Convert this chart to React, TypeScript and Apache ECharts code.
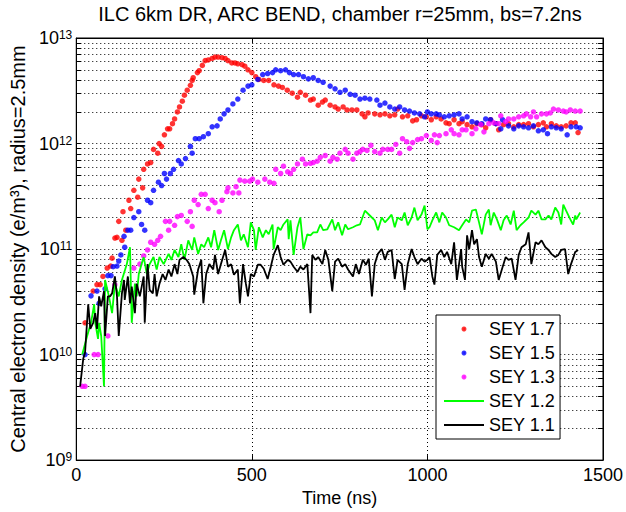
import React, { useEffect, useRef } from "react";
import * as echarts from "echarts";

const FONT = "'Liberation Sans', Arial, Helvetica, sans-serif";
const TITLE = "ILC 6km DR, ARC BEND, chamber r=25mm, bs=7.2ns";
const X_NAME = "Time (ns)";
const Y_NAME = "Central electron density (e/m³), radius=2.5mm";
const X_TICKS = [0, 500, 1000, 1500];
const Y_DECADES = [9, 10, 11, 12, 13];
const MINOR_MANTISSAS = [2, 3, 4, 5, 6, 7, 8, 9];

const NAMES = ["SEY 1.7", "SEY 1.5", "SEY 1.3", "SEY 1.2", "SEY 1.1"];
const COLORS = ["#ff0000", "#0000ff", "#ff00ff", "#00ff00", "#000000"];

// [time (ns), density (e/m^3)]
const sey17: [number, number][] = [[25,2.0e10],[48,4.0e10],[59,4.6e10],[68,4.6e10],[76,5.5e10],[88,6.6e10],[98,6.9e10],[102,8.2e10],[110,1.27e11],[116,1.29e11],[121,1.83e11],[130,1.21e11],[133,2.26e11],[141,1.51e11],[150,2.9e11],[155,2.42e11],[164,3.6e11],[175,3.1e11],[178,4.6e11],[189,3.8e11],[192,5.7e11],[203,6.4e11],[212,6.6e11],[220,8.8e11],[232,8.1e11],[236,1.0e12],[243,9.4e11],[251,1.21e12],[260,1.38e12],[266,1.38e12],[274,1.54e12],[280,1.71e12],[288,1.99e12],[294,2.22e12],[302,2.52e12],[308,2.87e12],[316,3.2e12],[325,3.56e12],[330,3.96e12],[333,4.2e12],[345,4.7e12],[350,4.9e12],[359,5.5e12],[367,6.1e12],[376,6.2e12],[387,6.4e12],[395,6.6e12],[404,6.6e12],[415,6.5e12],[424,6.4e12],[432,6.1e12],[443,5.8e12],[452,5.8e12],[460,5.7e12],[472,5.6e12],[480,5.4e12],[489,5.0e12],[500,4.7e12],[511,4.3e12],[520,4.05e12],[534,3.96e12],[548,3.96e12],[563,3.6e12],[576,3.5e12],[587,3.4e12],[601,3.2e12],[615,3.0e12],[630,2.75e12],[638,3.06e12],[653,2.87e12],[667,2.58e12],[675,2.64e12],[689,2.31e12],[701,2.47e12],[709,2.58e12],[723,2.31e12],[737,2.22e12],[746,2.12e12],[760,2.22e12],[771,2.08e12],[785,2.08e12],[799,2.08e12],[814,1.91e12],[822,1.79e12],[831,1.95e12],[850,1.91e12],[865,1.87e12],[879,1.91e12],[893,1.83e12],[907,1.87e12],[915,2.12e12],[929,1.79e12],[944,1.83e12],[958,1.64e12],[969,1.68e12],[983,1.83e12],[997,1.79e12],[1011,1.68e12],[1025,1.79e12],[1039,1.71e12],[1053,1.57e12],[1062,1.54e12],[1076,1.68e12],[1090,1.54e12],[1099,1.61e12],[1113,1.51e12],[1127,1.44e12],[1141,1.54e12],[1155,1.51e12],[1166,1.41e12],[1180,1.68e12],[1195,1.54e12],[1203,1.35e12],[1217,1.51e12],[1231,1.54e12],[1246,1.44e12],[1260,1.51e12],[1274,1.51e12],[1288,1.54e12],[1302,1.44e12],[1316,1.51e12],[1330,1.57e12],[1339,1.44e12],[1353,1.54e12],[1367,1.47e12],[1381,1.44e12],[1395,1.47e12],[1409,1.57e12],[1421,1.57e12],[1429,1.27e12]];

const sey15: [number, number][] = [[25,1.0e10],[42,3.6e10],[59,4.0e10],[65,3.06e10],[82,4.2e10],[90,5.6e10],[99,5.6e10],[105,6.8e10],[116,6.9e10],[121,7.7e10],[127,8.8e10],[136,1.32e11],[138,1.04e11],[147,1.51e11],[155,1.51e11],[164,1.99e11],[178,2.26e11],[186,1.71e11],[195,1.51e11],[203,2.9e11],[212,2.75e11],[220,3.6e11],[234,4.3e11],[243,4.0e11],[251,5.2e11],[257,4.6e11],[268,5.2e11],[277,5.7e11],[291,6.9e11],[299,6.4e11],[311,7.2e11],[325,9.4e11],[330,8.1e11],[339,1.11e12],[350,1.11e12],[362,1.16e12],[376,1.24e12],[387,1.44e12],[401,1.47e12],[410,1.71e12],[421,1.91e12],[432,2.08e12],[446,2.37e12],[460,2.64e12],[475,3.2e12],[489,3.5e12],[500,3.6e12],[517,4.05e12],[531,4.5e12],[545,4.6e12],[559,4.7e12],[568,5.0e12],[582,4.9e12],[596,5.0e12],[607,4.7e12],[619,4.5e12],[633,4.5e12],[647,4.3e12],[661,4.1e12],[675,4.2e12],[689,3.96e12],[703,3.8e12],[723,3.5e12],[737,3.3e12],[751,3.06e12],[766,3.2e12],[780,2.93e12],[794,2.87e12],[808,2.64e12],[822,2.69e12],[836,2.64e12],[856,2.58e12],[865,2.31e12],[879,2.42e12],[893,2.22e12],[907,2.12e12],[921,2.22e12],[935,2.08e12],[949,2.03e12],[963,1.95e12],[978,1.91e12],[992,1.79e12],[1000,1.99e12],[1011,1.91e12],[1025,1.91e12],[1034,1.87e12],[1048,1.79e12],[1062,1.83e12],[1076,1.87e12],[1090,1.91e12],[1099,1.71e12],[1113,1.79e12],[1127,1.61e12],[1141,1.57e12],[1155,1.54e12],[1166,1.71e12],[1180,1.68e12],[1195,1.54e12],[1209,1.38e12],[1214,1.68e12],[1231,1.47e12],[1246,1.38e12],[1260,1.47e12],[1274,1.44e12],[1288,1.41e12],[1302,1.47e12],[1316,1.32e12],[1330,1.35e12],[1342,1.24e12],[1353,1.44e12],[1367,1.41e12],[1381,1.38e12],[1398,1.21e12],[1409,1.44e12],[1424,1.44e12],[1435,1.41e12]];

const sey13: [number, number][] = [[17,5.0e9],[25,5.0e9],[51,1.0e10],[62,1.0e10],[90,1.5e10],[110,4.6e10],[164,6.6e10],[181,7.2e10],[192,8.6e10],[203,9.8e10],[212,1.16e11],[223,1.11e11],[232,1.21e11],[240,1.32e11],[254,1.83e11],[263,1.51e11],[266,1.83e11],[280,1.68e11],[288,2.03e11],[299,2.08e11],[316,1.83e11],[325,2.26e11],[330,1.64e11],[336,2.9e11],[347,2.64e11],[356,3.3e11],[367,3.3e11],[376,2.42e11],[387,2.9e11],[395,2.75e11],[407,2.26e11],[415,2.9e11],[429,3.5e11],[432,3.8e11],[446,3.4e11],[455,3.9e11],[463,3.4e11],[466,4.5e11],[480,4.4e11],[494,4.4e11],[502,4.6e11],[517,4.3e11],[537,4.6e11],[551,4.3e11],[563,4.2e11],[568,5.7e11],[582,5.2e11],[590,6.1e11],[602,5.4e11],[610,5.2e11],[619,5.7e11],[630,6.4e11],[644,7.1e11],[653,6.4e11],[667,6.5e11],[675,6.6e11],[686,6.8e11],[695,7.4e11],[709,7.7e11],[723,6.8e11],[731,7.4e11],[743,7.1e11],[751,8.1e11],[766,8.8e11],[774,8.1e11],[788,7.1e11],[799,8.1e11],[808,8.4e11],[816,8.8e11],[828,8.6e11],[839,9.6e11],[850,8.4e11],[865,8.1e11],[873,8.8e11],[887,8.8e11],[898,8.8e11],[910,9.8e11],[921,8.1e11],[929,1.11e12],[941,1.04e12],[949,9.0e11],[958,1.02e12],[972,1.09e12],[983,1.11e12],[997,1.19e12],[1011,1.07e12],[1020,1.21e12],[1028,1.02e12],[1034,1.19e12],[1053,1.24e12],[1068,1.35e12],[1076,1.24e12],[1090,1.21e12],[1099,1.35e12],[1110,1.35e12],[1127,1.24e12],[1138,1.38e12],[1152,1.51e12],[1161,1.29e12],[1175,1.54e12],[1189,1.57e12],[1203,1.54e12],[1209,1.83e12],[1223,1.61e12],[1231,1.71e12],[1246,1.71e12],[1260,1.79e12],[1274,1.83e12],[1282,1.91e12],[1294,1.79e12],[1302,1.99e12],[1311,1.79e12],[1325,1.91e12],[1339,1.91e12],[1350,1.95e12],[1359,2.12e12],[1373,2.08e12],[1387,2.03e12],[1395,1.99e12],[1407,2.08e12],[1421,2.03e12],[1435,2.03e12]];

const sey12: [number, number][] = [[17,1.0e10],[31,1.5e10],[42,2.0e10],[51,3.0e10],[54,2.0e10],[62,1.41e10],[65,2.0e10],[71,1.5e10],[79,5.0e9],[82,5.1e10],[93,3.56e10],[102,2.47e10],[110,4.7e10],[121,3.56e10],[130,5.1e10],[144,7.2e10],[153,1.04e11],[158,2.0e10],[167,4.7e10],[172,3.56e10],[178,5.8e10],[186,7.2e10],[192,8.4e10],[201,5.8e10],[209,7.2e10],[220,8.4e10],[229,6.4e10],[237,8.4e10],[249,7.2e10],[263,9.0e10],[271,7.9e10],[280,9.8e10],[291,8.4e10],[299,1.11e11],[308,7.9e10],[319,1.21e11],[330,9.8e10],[336,1.29e11],[347,9.0e10],[356,1.11e11],[364,1.04e11],[376,1.29e11],[384,1.04e11],[393,1.51e11],[404,9.8e10],[412,1.21e11],[421,1.51e11],[432,1.0e11],[441,1.29e11],[449,1.51e11],[460,1.71e11],[469,1.21e11],[477,1.38e11],[489,1.04e11],[497,1.79e11],[506,1.51e11],[511,9.8e10],[520,1.61e11],[531,1.29e11],[540,1.51e11],[548,1.38e11],[559,1.71e11],[562,1.0e11],[574,1.61e11],[582,1.51e11],[590,1.71e11],[602,1.91e11],[605,1.24e11],[610,1.87e11],[619,8.8e10],[630,1.61e11],[638,1.99e11],[647,1.0e11],[658,1.38e11],[667,1.35e11],[675,1.44e11],[686,1.44e11],[695,1.71e11],[703,1.51e11],[715,1.54e11],[729,1.91e11],[737,1.51e11],[746,1.79e11],[757,1.35e11],[766,1.71e11],[774,1.54e11],[788,1.61e11],[799,1.68e11],[808,1.71e11],[822,2.31e11],[836,2.08e11],[850,1.87e11],[859,1.51e11],[870,1.99e11],[879,1.79e11],[887,1.91e11],[898,2.12e11],[907,1.61e11],[915,1.99e11],[927,1.87e11],[935,2.22e11],[944,1.68e11],[955,1.99e11],[963,2.47e11],[972,1.87e11],[983,2.12e11],[992,2.58e11],[1000,1.54e11],[1006,1.61e11],[1014,1.87e11],[1025,2.22e11],[1034,1.79e11],[1042,2.22e11],[1053,1.99e11],[1062,1.68e11],[1076,1.61e11],[1090,1.51e11],[1099,1.68e11],[1110,1.91e11],[1119,1.79e11],[1127,2.31e11],[1138,2.37e11],[1147,1.79e11],[1155,1.38e11],[1166,2.12e11],[1175,2.37e11],[1180,1.68e11],[1189,2.22e11],[1198,1.91e11],[1209,1.51e11],[1217,1.87e11],[1226,2.08e11],[1237,1.71e11],[1246,2.31e11],[1254,1.51e11],[1265,1.68e11],[1274,1.79e11],[1288,1.99e11],[1296,2.31e11],[1308,2.12e11],[1316,2.31e11],[1325,1.91e11],[1336,1.91e11],[1345,2.08e11],[1353,1.91e11],[1364,2.47e11],[1373,2.22e11],[1381,1.71e11],[1387,2.64e11],[1395,2.31e11],[1407,1.91e11],[1415,1.71e11],[1421,2.08e11],[1424,1.91e11],[1435,2.22e11]];

const sey11: [number, number][] = [[11,5.0e9],[20,9.2e9],[25,1.04e10],[34,3.0e10],[40,1.75e10],[48,2.0e10],[54,2.47e10],[59,1.75e10],[65,3.56e10],[71,2.87e10],[79,4.0e10],[82,1.5e10],[90,3.56e10],[96,3.56e10],[102,3.8e10],[110,5.5e10],[116,3.56e10],[121,1.5e10],[130,3.8e10],[136,5.1e10],[138,3.3e10],[147,5.5e10],[153,3.06e10],[158,4.4e10],[167,2.47e10],[172,4.7e10],[181,3.56e10],[192,5.5e10],[195,2.0e10],[203,7.2e10],[209,4.1e10],[218,3.8e10],[223,5.8e10],[229,3.56e10],[237,4.7e10],[246,5.8e10],[254,5.1e10],[263,6.4e10],[271,5.5e10],[280,7.2e10],[288,5.8e10],[294,7.9e10],[305,8.4e10],[314,7.9e10],[322,7.2e10],[333,5.5e10],[336,3.7e10],[347,6.4e10],[356,7.9e10],[362,3.06e10],[370,5.8e10],[379,7.2e10],[390,6.4e10],[395,8.8e10],[404,5.8e10],[412,7.2e10],[424,9.8e10],[432,6.8e10],[441,7.2e10],[449,5.7e10],[460,6.4e10],[466,3.06e10],[475,7.2e10],[483,4.7e10],[489,3.56e10],[497,5.8e10],[506,5.5e10],[517,7.1e10],[525,7.1e10],[534,6.5e10],[545,5.2e10],[554,6.8e10],[562,8.8e10],[574,1.09e11],[582,8.4e10],[590,7.1e10],[602,7.9e10],[610,7.6e10],[619,6.8e10],[630,6.1e10],[638,6.8e10],[647,6.4e10],[658,7.2e10],[667,2.47e10],[672,8.8e10],[681,7.9e10],[689,8.4e10],[701,7.2e10],[709,9.8e10],[718,7.9e10],[729,4.0e10],[737,7.6e10],[746,8.1e10],[757,6.8e10],[766,7.2e10],[774,6.4e10],[788,5.5e10],[796,7.2e10],[805,5.8e10],[816,7.9e10],[825,7.1e10],[833,8.1e10],[842,3.56e10],[850,7.2e10],[859,9.0e10],[870,1.0e11],[879,7.9e10],[887,9.4e10],[898,9.8e10],[907,5.2e10],[915,7.9e10],[927,7.2e10],[935,4.1e10],[944,7.2e10],[955,1.0e11],[963,8.4e10],[972,7.2e10],[983,8.1e10],[992,7.6e10],[1000,7.9e10],[1006,8.4e10],[1014,5.5e10],[1020,4.6e10],[1028,8.8e10],[1039,9.8e10],[1048,8.4e10],[1056,9.4e10],[1068,7.2e10],[1076,1.16e11],[1084,5.1e10],[1096,1.0e11],[1099,6.8e10],[1107,5.1e10],[1113,1.35e11],[1119,1.0e11],[1127,1.51e11],[1133,1.11e11],[1141,1.24e11],[1147,8.4e10],[1155,6.8e10],[1166,9.0e10],[1175,8.1e10],[1183,9.0e10],[1195,7.6e10],[1203,5.1e10],[1212,6.4e10],[1223,8.4e10],[1231,7.9e10],[1240,8.1e10],[1251,5.1e10],[1260,8.8e10],[1268,1.04e11],[1280,1.11e11],[1288,1.44e11],[1296,7.2e10],[1308,1.16e11],[1316,1.11e11],[1325,1.21e11],[1336,1.04e11],[1345,9.8e10],[1353,9.0e10],[1364,8.4e10],[1373,8.8e10],[1381,9.8e10],[1392,1.0e11],[1401,5.8e10],[1409,7.2e10],[1421,9.4e10],[1429,9.8e10]];

function buildOption() {
  const yMin = Math.pow(10, Y_DECADES[0]);
  const yMax = Math.pow(10, Y_DECADES[Y_DECADES.length - 1]);
  const xMin = X_TICKS[0];
  const xMax = X_TICKS[X_TICKS.length - 1];
  const minorValues: number[] = [];
  for (let i = 0; i < Y_DECADES.length - 1; i++) {
    for (const m of MINOR_MANTISSAS) minorValues.push(m * Math.pow(10, Y_DECADES[i]));
  }
  const tickLen = 14; // ns, ≈5px
  const minorTicks: any[] = [];
  for (const v of minorValues) {
    minorTicks.push([{ coord: [xMin, v] }, { coord: [xMin + tickLen, v] }]);
    minorTicks.push([{ coord: [xMax - tickLen, v] }, { coord: [xMax, v] }]);
  }
  const axisText = { color: "#000", fontFamily: FONT, fontSize: 18 };
  const bigText = { color: "#000", fontFamily: FONT, fontSize: 20 };
  const dotted = { color: "#000", type: [1, 3] as any, width: 1 };

  const scatterSeries = [sey17, sey15, sey13].map((d, i) => ({
    name: NAMES[i],
    type: "scatter",
    data: d,
    symbol: "circle",
    symbolSize: 5.5,
    itemStyle: { color: COLORS[i] },
    z: 2,
  }));
  const lineSeries = [sey12, sey11].map((d, i) => ({
    name: NAMES[i + 3],
    type: "line",
    data: d,
    symbol: "none",
    showSymbol: false,
    lineStyle: { color: COLORS[i + 3], width: 1.8 },
    itemStyle: { color: COLORS[i + 3] },
    z: 3,
  }));
  (scatterSeries[0] as any).markLine = {
    silent: true,
    symbol: "none",
    z: 1,
    label: { show: false },
    lineStyle: dotted,
    data: minorValues.map((v) => ({ yAxis: v })),
  };
  (scatterSeries[1] as any).markLine = {
    silent: true,
    symbol: "none",
    z: 1,
    label: { show: false },
    lineStyle: { color: "#000", type: "solid", width: 1 },
    data: minorTicks,
  };

  return {
    animation: false,
    backgroundColor: "#ffffff",
    textStyle: { fontFamily: FONT },
    title: {
      text: TITLE,
      left: 340,
      top: 4,
      textAlign: "center",
      padding: 0,
      textStyle: { ...bigText, fontWeight: "normal" },
    },
    grid: {
      left: 74,
      right: 21,
      top: 38,
      bottom: 46,
      show: true,
      borderColor: "#000",
      borderWidth: 1,
      backgroundColor: "transparent",
    },
    legend: {
      orient: "vertical",
      left: 436,
      top: 315,
      padding: [5, 5, 5, 8],
      itemGap: 6,
      itemWidth: 40,
      itemHeight: 2,
      backgroundColor: "#fff",
      borderColor: "#000",
      borderWidth: 1,
      borderRadius: 0,
      selectedMode: false,
      textStyle: { ...axisText, lineHeight: 18 },
      data: NAMES.map((n, i) =>
        i < 3
          ? { name: n, icon: "circle", itemStyle: { color: COLORS[i], borderColor: COLORS[i], borderWidth: 3 } }
          : { name: n, icon: "rect", itemStyle: { color: COLORS[i], borderWidth: 0 } }
      ),
    },
    xAxis: [
      {
        type: "value",
        min: xMin,
        max: xMax,
        interval: X_TICKS[1] - X_TICKS[0],
        name: X_NAME,
        nameLocation: "middle",
        nameGap: 24,
        nameTextStyle: axisText,
        axisLine: { show: true, onZero: false, lineStyle: { color: "#000", width: 1 } },
        axisTick: { show: true, inside: true, length: 5, lineStyle: { color: "#000" } },
        axisLabel: { ...axisText, margin: 6, formatter: (v: number) => String(v) },
        splitLine: { show: true, lineStyle: dotted },
      },
      {
        type: "value",
        position: "top",
        min: xMin,
        max: xMax,
        interval: X_TICKS[1] - X_TICKS[0],
        axisLine: { show: true, onZero: false, lineStyle: { color: "#000", width: 1 } },
        axisTick: { show: true, inside: true, length: 5, lineStyle: { color: "#000" } },
        axisLabel: { show: false },
        splitLine: { show: false },
      },
    ],
    yAxis: [
      {
        type: "log",
        logBase: 10,
        min: yMin,
        max: yMax,
        name: Y_NAME,
        nameLocation: "middle",
        nameGap: 46,
        nameTextStyle: bigText,
        axisLine: { show: true, onZero: false, lineStyle: { color: "#000", width: 1 } },
        axisTick: { show: true, inside: true, length: 5, lineStyle: { color: "#000" } },
        axisLabel: {
          margin: 4,
          color: "#000",
          formatter: (v: number) => `{b|10}{e|${Math.round(Math.log10(v))}}`,
          rich: {
            b: { fontSize: 18, lineHeight: 18, verticalAlign: "bottom", color: "#000", fontFamily: FONT },
            e: { fontSize: 12, lineHeight: 12, padding: [0, 0, 9, 0], verticalAlign: "top", color: "#000", fontFamily: FONT },
          },
        },
        splitLine: { show: true, lineStyle: dotted },
      },
      {
        type: "log",
        logBase: 10,
        position: "right",
        min: yMin,
        max: yMax,
        axisLine: { show: true, onZero: false, lineStyle: { color: "#000", width: 1 } },
        axisTick: { show: true, inside: true, length: 5, lineStyle: { color: "#000" } },
        axisLabel: { show: false },
        splitLine: { show: false },
      },
    ],
    series: [...scatterSeries, ...lineSeries],
  };
}

export default function App() {
  const ref = useRef<HTMLDivElement>(null);
  useEffect(() => {
    if (!ref.current) return;
    const chart = echarts.init(ref.current, null, { renderer: "svg" });
    chart.setOption(buildOption() as any);
    return () => chart.dispose();
  }, []);
  return (
    <div
      ref={ref}
      style={{ position: "fixed", left: 0, top: 0, width: 626, height: 512, background: "#fff" }}
    />
  );
}
